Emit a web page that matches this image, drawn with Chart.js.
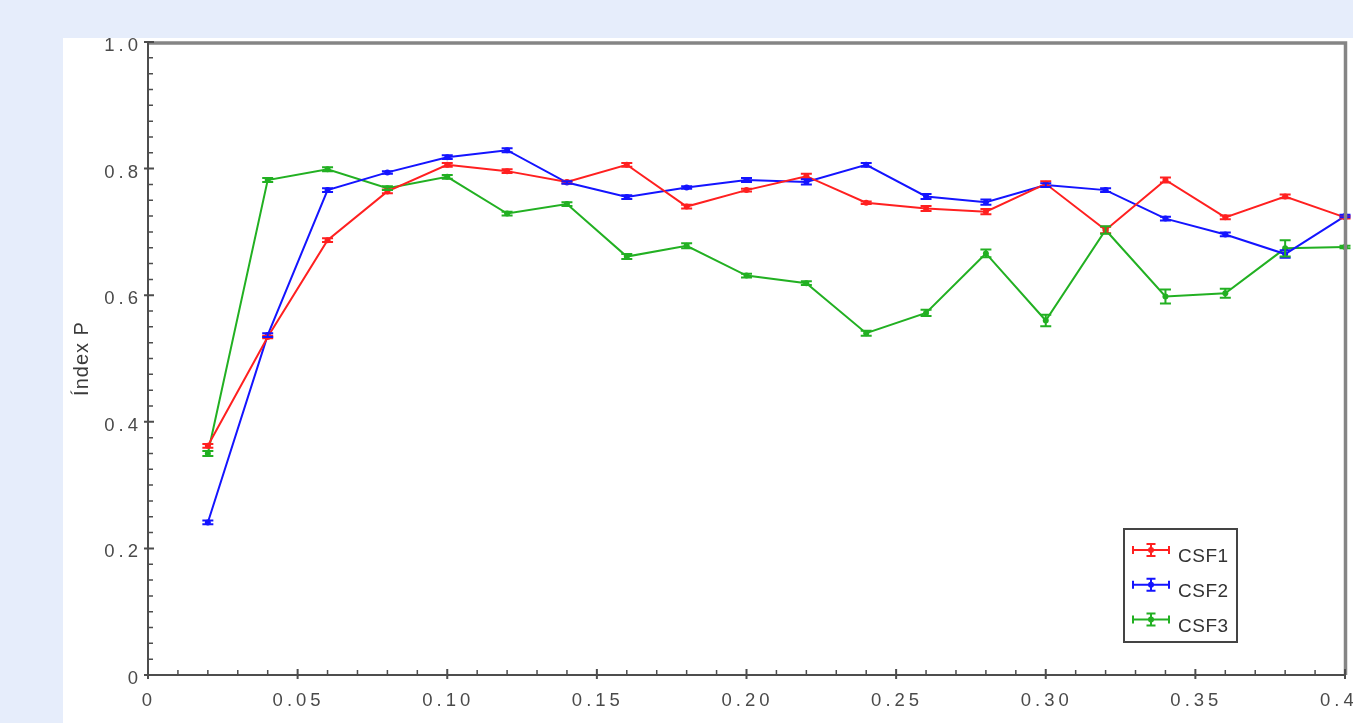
<!DOCTYPE html>
<html>
<head>
<meta charset="utf-8">
<script src="https://cdn.jsdelivr.net/npm/chart.js@4/dist/chart.umd.min.js"></script>
<style>
  html, body { margin: 0; padding: 0; width: 1353px; height: 723px; overflow: hidden; background: #e6edfb; }
  #panel { position: absolute; left: 63px; top: 38px; width: 1290px; height: 685px; background: #ffffff; overflow: hidden; }
  canvas { display: block; }
</style>
</head>
<body>
<div id="panel"><canvas id="chart" width="1290" height="685"></canvas></div>
<script>
// Sample positions along the x axis
const xValues = [0.02, 0.04, 0.06, 0.08, 0.10, 0.12, 0.14, 0.16, 0.18, 0.20,
                 0.22, 0.24, 0.26, 0.28, 0.30, 0.32, 0.34, 0.36, 0.38, 0.40];

// Index P per series, with its error
const csf1 = [0.362, 0.534, 0.687, 0.764, 0.806, 0.796, 0.779, 0.806, 0.740, 0.766,
              0.788, 0.746, 0.737, 0.732, 0.776, 0.703, 0.782, 0.723, 0.756, 0.723];
const csf1Err = [0.003, 0.002, 0.003, 0.003, 0.003, 0.003, 0.002, 0.003, 0.003, 0.002,
                 0.004, 0.002, 0.004, 0.004, 0.004, 0.005, 0.004, 0.003, 0.003, 0.002];

const csf2 = [0.241, 0.537, 0.766, 0.794, 0.818, 0.829, 0.778, 0.755, 0.770, 0.782,
              0.779, 0.806, 0.756, 0.747, 0.774, 0.766, 0.721, 0.696, 0.665, 0.725];
const csf2Err = [0.003, 0.003, 0.003, 0.002, 0.003, 0.003, 0.002, 0.003, 0.002, 0.003,
                 0.004, 0.003, 0.004, 0.004, 0.003, 0.003, 0.003, 0.003, 0.006, 0.002];

const csf3 = [0.350, 0.782, 0.799, 0.769, 0.787, 0.729, 0.744, 0.661, 0.678, 0.631,
              0.619, 0.540, 0.572, 0.666, 0.560, 0.703, 0.598, 0.603, 0.674, 0.676];
const csf3Err = [0.004, 0.003, 0.003, 0.003, 0.003, 0.003, 0.003, 0.004, 0.004, 0.003,
                 0.003, 0.004, 0.005, 0.006, 0.009, 0.006, 0.011, 0.007, 0.013, 0.002];

const seriesNames = ['CSF1', 'CSF2', 'CSF3'];
const seriesColors = ['#ff2020', '#1414ff', '#22b022'];

// Axis labelling
const xTickLabels = ['0', '0.05', '0.10', '0.15', '0.20', '0.25', '0.30', '0.35', '0.40'];
const yTickLabels = ['0', '0.2', '0.4', '0.6', '0.8', '1.0'];
const yAxisTitle = 'Índex P';

const FONT = 'Liberation Sans, Arial, sans-serif';

const seriesValues = [csf1, csf2, csf3];
const seriesErrors = [csf1Err, csf2Err, csf3Err];

const datasets = seriesNames.map((name, s) => ({
  label: name,
  data: xValues.map((x, i) => ({ x: x, y: seriesValues[s][i], err: seriesErrors[s][i] })),
  borderColor: seriesColors[s],
  backgroundColor: seriesColors[s],
  pointBackgroundColor: seriesColors[s],
  pointBorderWidth: 0,
  pointRadius: 3,
  borderWidth: 2,
  tension: 0,
  fill: false,
  clip: 4
}));

// Wide letter spacing for the tick labels drawn by the scales
const tickSpacing = {
  id: 'tickSpacing',
  beforeDraw(chart) { chart.ctx.letterSpacing = '4px'; },
  beforeDatasetsDraw(chart) { chart.ctx.letterSpacing = '0px'; }
};

// Vertical error bars with caps
const errorBars = {
  id: 'errorBars',
  afterDatasetsDraw(chart) {
    const ctx = chart.ctx;
    const yScale = chart.scales.y;
    chart.data.datasets.forEach((ds, di) => {
      const meta = chart.getDatasetMeta(di);
      ctx.save();
      ctx.strokeStyle = ds.borderColor;
      ctx.lineWidth = 2;
      meta.data.forEach((pt, i) => {
        const d = ds.data[i];
        const yTop = yScale.getPixelForValue(d.y + d.err);
        const yBot = yScale.getPixelForValue(d.y - d.err);
        ctx.beginPath();
        ctx.moveTo(pt.x, yTop); ctx.lineTo(pt.x, yBot);
        ctx.moveTo(pt.x - 5.5, yTop); ctx.lineTo(pt.x + 5.5, yTop);
        ctx.moveTo(pt.x - 5.5, yBot); ctx.lineTo(pt.x + 5.5, yBot);
        ctx.stroke();
      });
      ctx.restore();
    });
  }
};

// Axis frame, inward tick marks, y title and boxed legend
const frame = {
  id: 'frame',
  afterDraw(chart) {
    const ctx = chart.ctx;
    const a = chart.chartArea;
    const xs = chart.scales.x, ys = chart.scales.y;
    ctx.save();
    ctx.letterSpacing = '0px';

    // top and right borders
    ctx.strokeStyle = '#858585';
    ctx.lineWidth = 3.5;
    ctx.beginPath();
    ctx.moveTo(a.left - 1, a.top + 1);
    ctx.lineTo(a.right + 0.5, a.top + 1);
    ctx.lineTo(a.right + 0.5, a.bottom);
    ctx.stroke();

    // axis lines
    ctx.strokeStyle = '#4d4d4d';
    ctx.lineWidth = 2;
    ctx.beginPath();
    ctx.moveTo(a.left, a.top);
    ctx.lineTo(a.left, a.bottom);
    ctx.lineTo(a.right + 1, a.bottom);
    ctx.stroke();

    // y ticks: minor every 0.025, major every 0.2
    ctx.lineWidth = 1.5;
    ctx.beginPath();
    for (let k = 1; k < 40; k++) {
      if (k % 8 === 0) continue;
      const y = ys.getPixelForValue(k / 40);
      ctx.moveTo(a.left, y); ctx.lineTo(a.left + 5, y);
    }
    ctx.stroke();
    ctx.lineWidth = 2;
    ctx.beginPath();
    for (let k = 0; k <= 5; k++) {
      const y = ys.getPixelForValue(k / 5);
      ctx.moveTo(a.left - 4, y); ctx.lineTo(a.left + 6, y);
    }
    ctx.stroke();

    // x ticks: minor every 0.01, major every 0.05
    ctx.lineWidth = 1.5;
    ctx.beginPath();
    for (let k = 1; k < 40; k++) {
      if (k % 5 === 0) continue;
      const x = xs.getPixelForValue(k / 100);
      ctx.moveTo(x, a.bottom); ctx.lineTo(x, a.bottom - 5);
    }
    ctx.stroke();
    ctx.lineWidth = 2;
    ctx.beginPath();
    for (let k = 0; k <= 8; k++) {
      const x = xs.getPixelForValue(k / 20);
      ctx.moveTo(x, a.bottom + 4); ctx.lineTo(x, a.bottom - 6);
    }
    ctx.stroke();

    // y axis title
    ctx.save();
    ctx.translate(19, (a.top + a.bottom) / 2);
    ctx.rotate(-Math.PI / 2);
    ctx.font = '20px ' + FONT;
    ctx.letterSpacing = '1px';
    ctx.fillStyle = '#3a3a3a';
    ctx.textAlign = 'center';
    ctx.textBaseline = 'middle';
    ctx.fillText(yAxisTitle, 0, 0);
    ctx.restore();

    // legend box
    const lx = a.right - 221, ly = a.bottom - 146, lw = 113, lh = 113;
    ctx.fillStyle = '#ffffff';
    ctx.fillRect(lx, ly, lw, lh);
    ctx.strokeStyle = '#444';
    ctx.lineWidth = 2;
    ctx.strokeRect(lx, ly, lw, lh);

    chart.data.datasets.forEach((ds, i) => {
      const cy = ly + 21 + i * 34.8;
      const x0 = lx + 8, x1 = lx + 46, cx = (x0 + x1) / 2;
      ctx.strokeStyle = ds.borderColor;
      ctx.lineWidth = 2;
      ctx.beginPath();
      ctx.moveTo(x0, cy); ctx.lineTo(x1, cy);
      ctx.moveTo(x0 + 1, cy - 4); ctx.lineTo(x0 + 1, cy + 4);
      ctx.moveTo(x1 - 1, cy - 4); ctx.lineTo(x1 - 1, cy + 4);
      ctx.moveTo(cx, cy - 6); ctx.lineTo(cx, cy + 6);
      ctx.moveTo(cx - 4.5, cy - 6); ctx.lineTo(cx + 4.5, cy - 6);
      ctx.moveTo(cx - 4.5, cy + 6); ctx.lineTo(cx + 4.5, cy + 6);
      ctx.stroke();
      ctx.fillStyle = ds.borderColor;
      ctx.beginPath();
      ctx.arc(cx, cy, 3, 0, Math.PI * 2);
      ctx.fill();

      ctx.font = '19px ' + FONT;
      ctx.letterSpacing = '0.5px';
      ctx.fillStyle = '#333';
      ctx.textAlign = 'left';
      ctx.textBaseline = 'middle';
      ctx.fillText(ds.label, lx + 54, cy + 7);
      ctx.letterSpacing = '0px';
    });

    ctx.restore();
  }
};

new Chart(document.getElementById('chart'), {
  type: 'line',
  data: { datasets: datasets },
  plugins: [tickSpacing, errorBars, frame],
  options: {
    responsive: false,
    devicePixelRatio: 1,
    animation: false,
    layout: { padding: { top: 4, right: 8, left: 0, bottom: 0 } },
    plugins: { legend: { display: false }, tooltip: { enabled: false } },
    scales: {
      x: {
        type: 'linear',
        min: 0,
        max: 0.4,
        grid: { display: false, drawTicks: false },
        border: { display: false },
        ticks: {
          stepSize: 0.05,
          autoSkip: false,
          maxRotation: 0,
          padding: 15,
          labelOffset: 1,
          color: '#4a4a4a',
          font: { family: FONT, size: 18.5 },
          callback: (v) => xTickLabels[Math.round(v * 20)]
        },
        afterFit(s) { s.height = 48; s.paddingLeft = 0; s.paddingRight = 0; }
      },
      y: {
        type: 'linear',
        min: 0,
        max: 1,
        grid: { display: false, drawTicks: false },
        border: { display: false },
        ticks: {
          stepSize: 0.2,
          padding: 6,
          labelOffset: 4,
          color: '#4a4a4a',
          font: { family: FONT, size: 18.5 },
          callback: (v) => yTickLabels[Math.round(v * 5)]
        },
        afterFit(s) { s.width = 85; s.paddingTop = 0; s.paddingBottom = 0; }
      }
    }
  }
});
</script>
</body>
</html>
